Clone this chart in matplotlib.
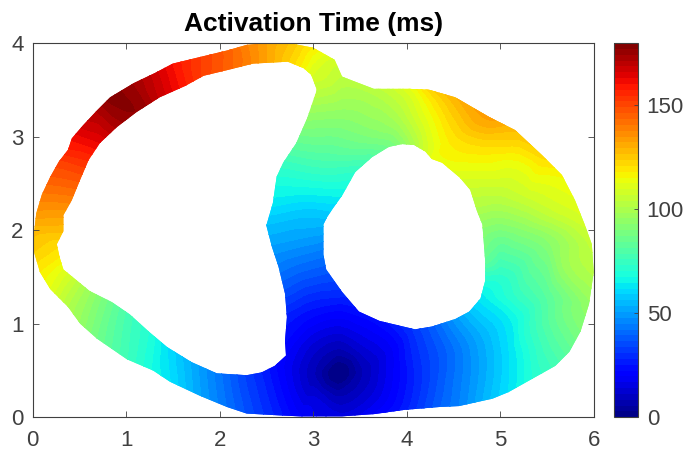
import numpy as np
import matplotlib
matplotlib.use('Agg')
import matplotlib.pyplot as plt
import matplotlib.tri as mtri
from matplotlib.path import Path
from matplotlib.patches import PathPatch

plt.rcParams['font.family'] = ['Liberation Sans', 'DejaVu Sans']

# outer boundary of the slice, clockwise
outer_x = [0, 0.02, 0.04, 0.10, 0.19, 0.28, 0.38, 0.42, 0.54, 0.69, 0.83, 1.08, 1.31, 1.50, 1.79, 2.08, 2.29, 2.51,
           2.79, 3.00, 3.23, 3.31, 3.65, 4.03, 4.24, 4.52, 4.88, 5.16, 5.45, 5.66, 5.80, 5.90, 5.98, 6.00, 5.95, 5.86,
           5.74, 5.59, 5.34, 5.09, 4.92, 4.56, 4.35, 3.98, 3.66, 3.31, 2.86, 2.65, 2.29, 2.08, 1.79, 1.47, 1.29, 1.01,
           0.69, 0.51, 0.38, 0.19, 0.08]
outer_y = [1.82, 2.00, 2.18, 2.38, 2.57, 2.73, 2.86, 2.98, 3.12, 3.28, 3.42, 3.57, 3.68, 3.78, 3.85, 3.92, 3.98, 4.00,
           3.99, 3.95, 3.82, 3.64, 3.51, 3.51, 3.50, 3.42, 3.21, 3.07, 2.80, 2.59, 2.32, 2.07, 1.85, 1.55, 1.21, 0.92,
           0.70, 0.55, 0.41, 0.27, 0.20, 0.12, 0.11, 0.08, 0.035, 0.01, 0.01, 0.02, 0.04, 0.11, 0.23, 0.38, 0.50, 0.62,
           0.84, 1.00, 1.18, 1.37, 1.55]
outer_t = [125, 128, 134, 140, 146, 151, 157, 161, 167, 172, 178, 174, 167, 160, 152, 145, 138, 132,
           125, 118, 109, 104, 103, 112, 122, 129, 133, 127, 122, 116, 112, 108, 105, 102, 95, 90,
           83, 77, 70, 62, 57, 45, 39, 27, 20, 15, 20, 26, 36, 42, 51, 62, 67, 76,
           87, 95, 101, 112, 118]

# left cavity
left_x = [0.33, 0.42, 0.51, 0.60, 0.72, 0.90, 1.11, 1.36, 1.63, 1.83, 2.08, 2.36, 2.73, 2.90, 2.98, 3.04, 2.93, 2.82,
          2.68, 2.61, 2.57, 2.50, 2.56, 2.63, 2.70, 2.72, 2.70, 2.71, 2.59, 2.45, 2.29, 1.97, 1.70, 1.44, 1.25, 1.04,
          0.85, 0.61, 0.33, 0.29, 0.26, 0.33]
left_y = [2.16, 2.32, 2.54, 2.75, 2.93, 3.10, 3.26, 3.42, 3.54, 3.65, 3.71, 3.78, 3.80, 3.73, 3.66, 3.50, 3.18, 2.93,
          2.72, 2.57, 2.29, 2.05, 1.82, 1.61, 1.32, 1.07, 0.82, 0.66, 0.55, 0.48, 0.45, 0.47, 0.59, 0.75, 0.91, 1.10,
          1.23, 1.35, 1.58, 1.71, 1.85, 1.99]
left_t = [133, 139, 147, 155, 163, 172, 177, 168, 158, 151, 145, 137, 124, 116, 110, 104, 93, 84,
          75, 70, 63, 56, 50, 44, 35, 27, 23, 20, 23, 28, 33, 44, 53, 62, 70, 77,
          85, 96, 112, 118, 122, 127]

# right cavity
right_x = [3.95, 4.08, 4.20, 4.27, 4.38, 4.57, 4.68, 4.75, 4.81, 4.84, 4.84, 4.79, 4.67, 4.52, 4.27, 4.09, 3.71, 3.49,
           3.31, 3.14, 3.11, 3.11, 3.15, 3.21, 3.31, 3.45, 3.63, 3.81]
right_y = [2.92, 2.91, 2.84, 2.76, 2.72, 2.56, 2.43, 2.21, 2.06, 1.67, 1.46, 1.27, 1.13, 1.05, 0.97, 0.94, 1.03, 1.13,
           1.34, 1.58, 1.74, 2.06, 2.14, 2.23, 2.37, 2.62, 2.78, 2.89]
right_t = [93, 100, 108, 113, 114, 110, 106, 100, 94, 83, 70, 63, 56, 49, 38, 32, 24, 24,
           30, 38, 43, 54, 57, 60, 65, 73, 80, 87]

# points inside the walls
inner_x = [3.27, 3.00, 3.27, 3.55, 3.27, 3.27, 3.87, 4.30, 4.70, 5.10, 5.30, 5.20, 5.50, 5.50, 5.20, 5.00, 5.20, 4.80,
           4.50, 4.20, 3.90, 3.60, 3.30, 3.10, 2.95, 2.85, 2.95, 3.00, 3.15, 3.75, 3.85, 4.10, 4.05, 4.40, 4.45, 4.75,
           4.80, 5.05, 5.15, 3.00, 3.55, 3.05, 3.50, 2.90, 5.50, 5.70, 5.75, 5.60, 5.00, 5.00, 4.95, 5.30]
inner_y = [0.47, 0.47, 0.20, 0.47, 0.75, 1.07, 0.47, 0.50, 0.55, 0.70, 0.90, 1.30, 1.30, 1.90, 2.00, 2.40, 2.70, 2.90,
           3.00, 3.20, 3.20, 3.00, 3.20, 2.70, 2.20, 1.60, 1.10, 3.30, 3.60, 0.20, 0.75, 0.30, 0.70, 0.35, 0.70, 0.40,
           0.85, 0.50, 1.05, 0.75, 0.20, 0.20, 0.75, 2.45, 0.80, 1.10, 1.60, 2.20, 1.50, 1.90, 2.20, 2.35]
inner_t = [0, 9, 9, 9, 9, 20, 20, 35, 48, 62, 72, 74, 82, 93, 92, 105, 114, 121,
           120, 112, 100, 90, 93, 77, 58, 41, 24, 97, 106, 18, 20, 29, 28, 39, 40, 50,
           53, 60, 66, 13, 13, 14, 13, 67, 78, 88, 98, 107, 72, 86, 98, 107]

cbar_ticks = [0, 50, 100, 150]
tick_labels = ['0', '1', '2', '3', '4', '5', '6']
ytick_labels = ['0', '1', '2', '3', '4']


def ring(xs, ys):
    return np.column_stack([xs, ys])


x = np.array(outer_x + left_x + right_x + inner_x, dtype=float)
y = np.array(outer_y + left_y + right_y + inner_y, dtype=float)
t = np.array(outer_t + left_t + right_t + inner_t, dtype=float)

# slice outline with the two cavities cut out (reversed so they stay empty)
verts = []
codes = []
for r in [ring(outer_x, outer_y), ring(left_x, left_y)[::-1], ring(right_x, right_y)[::-1]]:
    verts += list(r) + [r[0]]
    codes += [Path.MOVETO] + [Path.LINETO] * (len(r) - 1) + [Path.CLOSEPOLY]
slice_path = Path(verts, codes)

# triangles that span a cavity should not steer the interpolation
tri = mtri.Triangulation(x, y)
cx = x[tri.triangles].mean(axis=1)
cy = y[tri.triangles].mean(axis=1)
centers = np.column_stack([cx, cy])
tri.set_mask(Path(ring(left_x, left_y)).contains_points(centers) | Path(ring(right_x, right_y)).contains_points(centers))

refiner = mtri.UniformTriRefiner(tri)
interp = mtri.CubicTriInterpolator(tri, t, kind='geom')
fine_tri, fine_t = refiner.refine_field(t, triinterpolator=interp, subdiv=3)
fine_t = np.clip(fine_t, 0.01, 179.9)

levels = np.linspace(0, 180, 65)

fig = plt.figure(figsize=(6.84, 4.54), dpi=100)
ax = fig.add_axes([32.5 / 684, 1 - 417.3 / 454, 561.2 / 684, 374.3 / 454])
plain = mtri.Triangulation(x, y)
under = ax.tricontourf(plain, np.clip(t, 0.01, 179.9), levels=levels, cmap='jet', vmin=0, vmax=180)
cs = ax.tricontourf(fine_tri, fine_t, levels=levels, cmap='jet', vmin=0, vmax=180, antialiased=False)
patch = PathPatch(slice_path, transform=ax.transData, facecolor='none', edgecolor='none')
ax.add_patch(patch)
under.set_clip_path(patch)
cs.set_clip_path(patch)

ax.set_xlim(0, 6)
ax.set_ylim(0, 4)
ax.set_xticks(range(7))
ax.set_xticklabels(tick_labels)
ax.set_yticks(range(5))
ax.set_yticklabels(ytick_labels)
ax.tick_params(direction='in', top=True, right=True, length=4, width=0.6, color='#404040',
               labelcolor='#404040', labelsize=16)
ax.tick_params(axis='x', pad=9)
ax.tick_params(axis='y', pad=6.5)
for s in ax.spines.values():
    s.set_linewidth(0.8)
    s.set_color('#404040')
ax.set_title('Activation Time (ms)', fontsize=19, fontweight='bold', pad=9)

cax = fig.add_axes([614 / 684, 1 - 417.3 / 454, 23.7 / 684, 374.3 / 454])
cb = fig.colorbar(cs, cax=cax, ticks=cbar_ticks)
cb.ax.tick_params(direction='in', length=3, width=0.6, color='#404040', labelcolor='#404040', labelsize=16, pad=6.5)
cb.outline.set_linewidth(0.8)
cb.outline.set_edgecolor('#404040')

fig.savefig('out.png', dpi=100)
